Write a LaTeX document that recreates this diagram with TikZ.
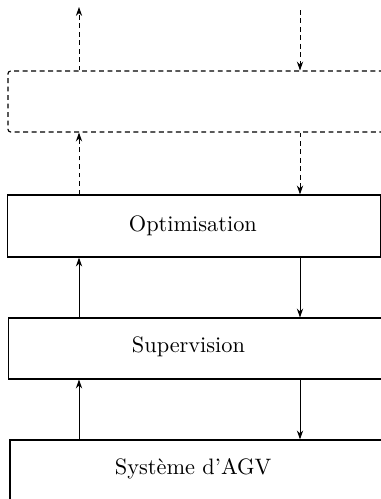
\documentclass[tikz,border=0pt]{standalone}
\usepackage{fontspec}
\usetikzlibrary{arrows.meta}
\tikzset{
  box/.style={draw, line width=0.5pt, rectangle, inner sep=0pt},
  dbox/.style={draw, line width=0.5pt, rectangle, rounded corners=1.2pt, dash pattern=on 2.2pt off 1.6pt, inner sep=0pt},
  lbl/.style={anchor=base west, inner sep=0pt, font=\fontsize{10pt}{12pt}\selectfont},
  arr/.style={line width=0.4pt, -{Stealth[length=4pt,width=2.8pt,inset=1.3pt]}},
  darr/.style={arr, dash pattern=on 2.2pt off 1.6pt}
}
\begin{document}
\begin{tikzpicture}[x=0.448pt,y=-0.448pt]
\useasboundingbox (0,0) rectangle (381,499);
\clip (0,0) rectangle (381,499);
% boxes
\node[dbox, minimum width=173.4pt, minimum height=27.3pt] (dash) at (201.5,101.5) {};
\node[box, minimum width=167.1pt, minimum height=27.8pt] (opt) at (194,226) {};
\node[box, minimum width=173.2pt, minimum height=27.3pt] (sup) at (201.75,348.5) {};
\node[box, minimum width=172.5pt, minimum height=27.8pt] (sys) at (202.5,471) {};
% labels
\node[lbl] (toptxt) at (128.5,231.7) {Optimisation};
\node[lbl] (tsup) at (131.5,352.7) {Supervision};
\node[lbl] (tsys) at (114.5,474.3) {Système d'AGV};
% columns
\coordinate (xl) at (79,0);
\coordinate (xr) at (300,0);
\coordinate (topL) at (79,7);
\coordinate (topR) at (300,10);
% arrows
\draw[darr] (dash.north -| xl) -- (topL);
\draw[darr] (topR) -- (dash.north -| xr);
\draw[darr] (opt.north -| xl) -- (dash.south -| xl);
\draw[darr] (dash.south -| xr) -- (opt.north -| xr);
\draw[arr] (sup.north -| xl) -- (opt.south -| xl);
\draw[arr] (opt.south -| xr) -- (sup.north -| xr);
\draw[arr] (sys.north -| xl) -- (sup.south -| xl);
\draw[arr] (sup.south -| xr) -- (sys.north -| xr);
\end{tikzpicture}
\end{document}
